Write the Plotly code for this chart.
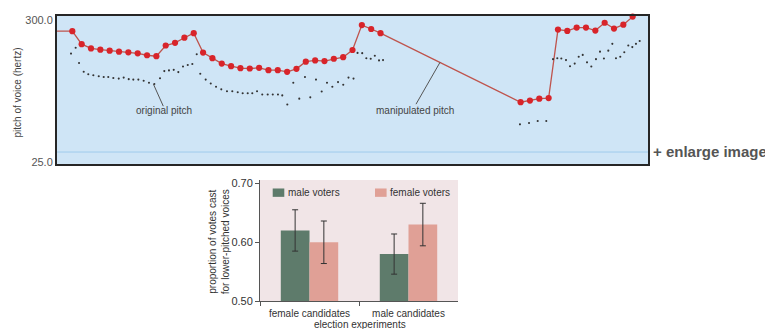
import plotly.graph_objects as go

W, H = 765, 329

# ---------------- top chart data (time in sample steps, pitch in Hz) ----------------
manip_t = list(range(0, 34)) + list(range(48, 61))
manip_v = [278.3, 253.2, 244.9, 242.5, 240.6, 238.7, 237.4, 235.5, 231.7, 229.8,
           250.6, 255.7, 265.7, 274.5, 236.8, 226.0, 215.5, 210.4, 206.6, 206.0,
           207.2, 202.8, 202.8, 199.6, 205.3, 219.2, 221.7, 220.4, 224.9, 227.9,
           241.9, 290.2, 282.6, 274.5,
           140.6, 143.8, 147.5, 148.7, 281.5, 278.9, 285.3, 285.3, 279.6, 294.7,
           283.4, 290.9, 306.6]
lead_t, lead_v = -2, 278.3
tail_t, tail_v = 61, 322.0

orig_t = [-0.14, 0.36, 0.72, 1.22, 1.71, 2.25, 2.83, 3.36, 3.85, 4.39, 4.97, 5.50,
          6.04, 6.53, 7.07, 7.64, 8.21, 8.78, 9.39, 9.85, 10.35, 10.86, 11.35, 11.85,
          12.36, 12.85, 13.32, 13.70, 14.28, 14.82, 15.39, 15.95, 16.56, 17.13, 17.71,
          18.24, 18.78, 19.27, 19.78, 20.34, 20.92, 21.46, 22.02, 22.48, 23.02, 23.66,
          24.30, 24.91, 25.48, 26.09, 26.70, 27.27, 27.84, 28.45, 29.01, 29.57, 30.11,
          30.54, 31.04, 31.48, 31.95, 32.39, 32.84, 33.27,
          47.93, 48.90, 49.83, 50.75, 51.47, 51.93, 52.36, 52.86, 53.29, 53.79, 54.22,
          54.65, 55.11, 55.57, 56.07, 56.50, 56.92, 57.39, 57.82, 58.21, 58.67, 59.10,
          59.53, 59.96, 60.35, 60.75]
orig_v = [234.9, 246.2, 216.6, 199.6, 194.7, 192.8, 190.9, 189.6, 189.6, 187.7, 186.4,
          188.3, 185.3, 184.5, 184.5, 182.1, 178.3, 175.8, 187.2, 200.9, 202.3, 203.4,
          199.0, 209.8, 212.8, 214.7, 233.6, 195.8, 184.5, 177.0, 170.7, 165.6, 161.9,
          161.9, 160.0, 158.1, 158.1, 158.1, 161.9, 155.6, 155.6, 155.6, 155.6, 153.8,
          136.2, 178.3, 147.5, 189.6, 150.0, 184.5, 161.3, 178.3, 170.7, 179.6, 174.5,
          188.3, 186.4, 236.2, 235.8, 226.0, 224.9, 230.7, 221.7, 222.3,
          97.7, 100.4, 104.1, 104.1, 224.1, 226.0, 225.5, 222.3, 210.4, 215.5, 228.7,
          232.4, 217.9, 209.8, 224.1, 238.7, 225.5, 240.6, 253.8, 226.0, 228.7, 237.4,
          250.6, 247.5, 253.8, 259.4]

pitch_ticks = [25, 300]
pitch_ticktext = ["25.0", "300.0"]
ref_line_hz = 44

# ---------------- bottom chart data ----------------
categories = ["female candidates", "male candidates"]
male_voters = [0.62, 0.58]
male_err = [0.035, 0.034]
female_voters = [0.60, 0.63]
female_err = [0.036, 0.036]
prop_ticks = [0.50, 0.60, 0.70]
prop_ticktext = ["0.50", "0.60", "0.70"]
series_names = ["male voters", "female voters"]
series_colors = ["#5e7b6b", "#e0a096"]

FONT = "Liberation Sans, Arial, Helvetica, sans-serif"

fig = go.Figure()

# manipulated pitch line + markers
fig.add_trace(go.Scatter(
    x=[lead_t] + manip_t + [tail_t], y=[lead_v] + manip_v + [tail_v],
    mode="lines", line=dict(color="#bf544d", width=1.3),
    xaxis="x", yaxis="y", showlegend=False, hoverinfo="skip"))
fig.add_trace(go.Scatter(
    x=manip_t, y=manip_v, mode="markers",
    marker=dict(color="#d8242a", size=6.2),
    xaxis="x", yaxis="y", showlegend=False, cliponaxis=False))
# original pitch dots
fig.add_trace(go.Scatter(
    x=orig_t, y=orig_v, mode="markers",
    marker=dict(color="#333333", size=2.1),
    xaxis="x", yaxis="y", showlegend=False))

# bars
fig.add_trace(go.Bar(
    x=categories, y=male_voters, name=series_names[0],
    marker=dict(color=series_colors[0], line=dict(width=0)),
    error_y=dict(type="data", array=male_err, color="#333333", thickness=1, width=3),
    xaxis="x2", yaxis="y2", showlegend=False))
fig.add_trace(go.Bar(
    x=categories, y=female_voters, name=series_names[1],
    marker=dict(color=series_colors[1], line=dict(width=0)),
    error_y=dict(type="data", array=female_err, color="#333333", thickness=1, width=3),
    xaxis="x2", yaxis="y2", showlegend=False))


def px_x(p):
    return p / W


def px_y(p):
    return 1 - p / H


# legend (swatch + label) for the bar chart
legend_swatch_x = [272.7, 375.0]
legend_shapes = []
legend_annots = []
for name, col, sx in zip(series_names, series_colors, legend_swatch_x):
    legend_shapes.append(dict(type="rect", xref="paper", yref="paper",
                              x0=px_x(sx), x1=px_x(sx + 11.6),
                              y0=px_y(199.3), y1=px_y(190.7),
                              fillcolor=col, line=dict(width=0)))
    legend_annots.append(dict(text=name, xref="paper", yref="paper",
                              x=px_x(sx + 13.3), y=px_y(195.2),
                              xanchor="left", yanchor="middle", showarrow=False,
                              font=dict(size=10, color="#333333")))

fig.update_layout(
    width=W, height=H,
    margin=dict(l=0, r=0, t=0, b=0),
    paper_bgcolor="white",
    plot_bgcolor="rgba(0,0,0,0)",
    font=dict(family=FONT, color="#444444", size=11),
    showlegend=False,
    barmode="group", bargap=0.42, bargroupgap=0,
    xaxis=dict(domain=[px_x(57), px_x(648)], range=[-1.64, 61.64], anchor="y",
               showline=True, mirror=True, linecolor="#262626", linewidth=2,
               showgrid=False, zeroline=False, showticklabels=False, ticks=""),
    yaxis=dict(domain=[px_y(166), px_y(13)], range=[19.9, 308.5], anchor="x",
               tickvals=pitch_ticks, ticktext=pitch_ticktext,
               showline=True, mirror=True, linecolor="#262626", linewidth=2,
               showgrid=False, zeroline=False, ticks="",
               tickfont=dict(size=11, color="#555555")),
    xaxis2=dict(domain=[px_x(260), px_x(458)], range=[-0.5, 1.5], anchor="y2",
                type="category", showline=True, linecolor="#555555", linewidth=1,
                ticks="outside", tickson="boundaries", ticklen=4, tickcolor="#555555",
                showgrid=False, zeroline=False, ticklabelstandoff=3,
                tickfont=dict(size=10, color="#333333")),
    yaxis2=dict(domain=[px_y(306.7), px_y(182)], range=[0.50, 0.7054], anchor="x2",
                tickvals=prop_ticks, ticktext=prop_ticktext,
                showline=True, linecolor="#555555", linewidth=1,
                ticks="outside", ticklen=4, tickcolor="#555555",
                showgrid=False, zeroline=False,
                tickfont=dict(size=11, color="#333333")),
    shapes=[
        dict(type="rect", xref="x domain", yref="y domain", x0=0, x1=1, y0=0, y1=1,
             fillcolor="#cfe5f6", line=dict(width=0), layer="below"),
        dict(type="rect", xref="x2 domain", yref="y2 domain", x0=0, x1=1, y0=0, y1=1,
             fillcolor="#f1e5e7", line=dict(width=0), layer="below"),
        dict(type="line", xref="x domain", yref="y", x0=0, x1=1, y0=ref_line_hz, y1=ref_line_hz,
             line=dict(color="#9fcbec", width=1), layer="below"),
        dict(type="line", xref="x", yref="y", x0=8.68, y0=175.8, x1=9.74, y1=133.0,
             line=dict(color="#555555", width=1)),
        dict(type="line", xref="x", yref="y", x0=39.37, y0=217.9, x1=36.8, y1=136.8,
             line=dict(color="#555555", width=1)),
    ] + legend_shapes,
    annotations=[
        dict(text="pitch of voice (hertz)", xref="paper", yref="paper",
             x=px_x(17), y=px_y(92), xanchor="center", yanchor="middle",
             textangle=-90, showarrow=False,
             font=dict(size=10, color="#444444")),
        dict(text="original pitch", xref="x", yref="y", x=9.82, y=125.5,
             xanchor="center", yanchor="middle",
             showarrow=False, font=dict(size=10, color="#444444")),
        dict(text="manipulated pitch", xref="x", yref="y", x=36.69, y=125.5,
             xanchor="center", yanchor="middle",
             showarrow=False, font=dict(size=10, color="#444444")),
        dict(text="<b>+ enlarge image</b>", xref="paper", yref="paper",
             x=px_x(651), y=px_y(153), xanchor="left", yanchor="middle",
             showarrow=False, font=dict(size=15, color="#555555")),
        dict(text="proportion of votes cast<br>for lower-pitched voices",
             xref="paper", yref="paper", x=px_x(219), y=px_y(246),
             xanchor="center", yanchor="middle",
             textangle=-90, showarrow=False, font=dict(size=10, color="#333333")),
        dict(text="election experiments", xref="paper", yref="paper",
             x=px_x(360), y=px_y(330.5), xanchor="center", yanchor="middle",
             showarrow=False, font=dict(size=10, color="#333333")),
    ] + legend_annots,
)

fig.write_html("out.html", config={"displayModeBar": False},
               post_script="document.body.style.margin='0px';")
